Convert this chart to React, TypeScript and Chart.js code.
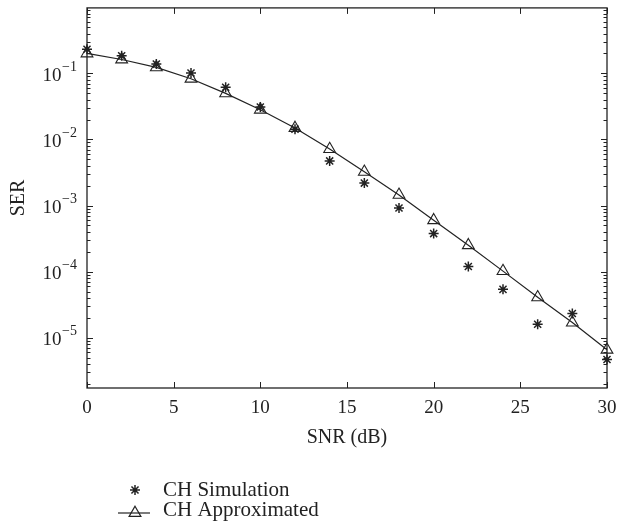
import React, { useEffect, useRef } from "react";
import { Chart, registerables } from "chart.js";
import { drawPoint } from "chart.js/helpers";

Chart.register(...registerables);

const snr = [0, 2, 4, 6, 8, 10, 12, 14, 16, 18, 20, 22, 24, 26, 28, 30];
const serSimulation = [
  0.231, 0.184, 0.138, 0.101, 0.0617, 0.031, 0.0143, 0.00474, 0.00219, 0.00092,
  0.000377, 0.00012, 5.4e-5, 1.6e-5, 2.33e-5, 4.7e-6,
];
const serApproximated = [
  0.2, 0.162, 0.123, 0.0828, 0.0498, 0.0282, 0.0149, 0.00716, 0.00324, 0.00145,
  0.0006, 0.000251, 0.000102, 4.1e-5, 1.7e-5, 6.6e-6,
];
const xTicks = [0, 5, 10, 15, 20, 25, 30];
const yDecadeExps = [-1, -2, -3, -4, -5];
const seriesLabels = ["CH Simulation", "CH Approximated"];
const xTitle = "SNR (dB)";
const yTitle = "SER";

const INK = "#222";
const FONT = "'Liberation Serif', 'Times New Roman', serif";

const framePlugin = {
  id: "matlabFrame",
  afterDatasetsDraw(chart: any) {
    const ctx = chart.ctx as CanvasRenderingContext2D;
    const { left, right, top, bottom } = chart.chartArea;
    const xs = chart.scales.x;
    const ys = chart.scales.y;
    ctx.save();
    ctx.strokeStyle = INK;
    ctx.fillStyle = INK;
    ctx.lineWidth = 1.3;
    ctx.strokeRect(left, top, right - left, bottom - top);

    // x ticks (inward, top & bottom)
    ctx.lineWidth = 1;
    ctx.beginPath();
    for (const v of xTicks) {
      const px = Math.round(xs.getPixelForValue(v)) + 0.5;
      ctx.moveTo(px, bottom);
      ctx.lineTo(px, bottom - 6);
      ctx.moveTo(px, top);
      ctx.lineTo(px, top + 6);
    }
    // y ticks (major decades and minor)
    const ymin = ys.min;
    const ymax = ys.max;
    const eLo = Math.floor(Math.log10(ymin));
    const eHi = Math.ceil(Math.log10(ymax));
    for (let e = eLo; e <= eHi; e++) {
      for (let m = 1; m <= 9; m++) {
        const v = m * Math.pow(10, e);
        if (v < ymin || v > ymax) continue;
        const py = Math.round(ys.getPixelForValue(v)) + 0.5;
        const len = m === 1 ? 6 : 3.5;
        ctx.moveTo(left, py);
        ctx.lineTo(left + len, py);
        ctx.moveTo(right, py);
        ctx.lineTo(right - len, py);
      }
    }
    ctx.stroke();

    // x tick labels
    ctx.font = `19px ${FONT}`;
    ctx.textAlign = "center";
    ctx.textBaseline = "alphabetic";
    for (const v of xTicks) {
      ctx.fillText(String(v), xs.getPixelForValue(v), bottom + 25);
    }

    // y tick labels 10^e
    for (const e of yDecadeExps) {
      const py = ys.getPixelForValue(Math.pow(10, e));
      const sup = "\u2212" + Math.abs(e);
      ctx.font = `14px ${FONT}`;
      const supW = ctx.measureText(sup).width;
      const supX = left - 10 - supW;
      ctx.textAlign = "left";
      ctx.fillText(sup, supX, py - 2.5);
      ctx.font = `19px ${FONT}`;
      ctx.textAlign = "right";
      ctx.fillText("10", supX - 0.5, py + 7.3);
    }

    // axis titles
    ctx.font = `20px ${FONT}`;
    ctx.textAlign = "center";
    ctx.fillText(xTitle, (left + right) / 2, bottom + 55);
    ctx.save();
    ctx.translate(24, (top + bottom) / 2);
    ctx.rotate(-Math.PI / 2);
    ctx.fillText(yTitle, 0, 0);
    ctx.restore();

    // legend
    const ds = chart.data.datasets;
    const lx = left + 48;
    const tx = left + 76;
    const row1 = bottom + 102;
    const row2 = bottom + 125;
    ctx.font = `21px ${FONT}`;
    ctx.textAlign = "left";
    ctx.fillText(ds[0].label, tx, row1 + 6);
    ctx.fillText(ds[1].label, tx, row2 + 3);
    ctx.strokeStyle = INK;
    ctx.lineWidth = ds[0].borderWidth;
    drawPoint(ctx, { pointStyle: ds[0].pointStyle, radius: ds[0].pointRadius, rotation: 0, borderWidth: ds[0].borderWidth }, lx, row1);
    ctx.lineWidth = ds[1].borderWidth;
    ctx.beginPath();
    ctx.moveTo(lx - 17, row2);
    ctx.lineTo(lx + 15, row2);
    ctx.stroke();
    ctx.fillStyle = "rgba(0,0,0,0)";
    drawPoint(ctx, { pointStyle: ds[1].pointStyle, radius: ds[1].pointRadius, rotation: 0, borderWidth: ds[1].borderWidth }, lx, row2);
    ctx.restore();
  },
};

export default function App() {
  const ref = useRef<HTMLCanvasElement | null>(null);
  useEffect(() => {
    if (!ref.current) return;
    const chart = new Chart(ref.current, {
      type: "line",
      data: {
        datasets: [
          {
            label: seriesLabels[0],
            data: snr.map((x, i) => ({ x, y: serSimulation[i] })),
            showLine: false,
            pointStyle: "star",
            pointRadius: 5,
            pointBorderWidth: 1.5,
            borderWidth: 1.5,
            borderColor: INK,
            pointBorderColor: INK,
            backgroundColor: INK,
            clip: false,
          },
          {
            label: seriesLabels[1],
            data: snr.map((x, i) => ({ x, y: serApproximated[i] })),
            showLine: true,
            tension: 0,
            pointStyle: "triangle",
            pointRadius: 6.8,
            pointBorderWidth: 1.1,
            borderWidth: 1.2,
            borderColor: INK,
            pointBorderColor: INK,
            pointBackgroundColor: "rgba(0,0,0,0)",
            backgroundColor: "rgba(0,0,0,0)",
            clip: false,
          },
        ] as any,
      },
      options: {
        animation: false,
        responsive: true,
        maintainAspectRatio: false,
        layout: { padding: { left: 87, top: 5, right: 10, bottom: 139 } },
        plugins: { legend: { display: false }, tooltip: { enabled: false } },
        elements: { point: { hoverRadius: 0 } },
        scales: {
          x: { type: "linear", min: 0, max: 30, display: false },
          y: { type: "logarithmic", min: 1.74e-6, max: 0.977, display: false },
        },
      },
      plugins: [framePlugin],
    });
    return () => chart.destroy();
  }, []);
  return (
    <div style={{ position: "fixed", left: 0, top: 0, width: 617, height: 527, background: "#fff" }}>
      <canvas ref={ref} />
    </div>
  );
}
